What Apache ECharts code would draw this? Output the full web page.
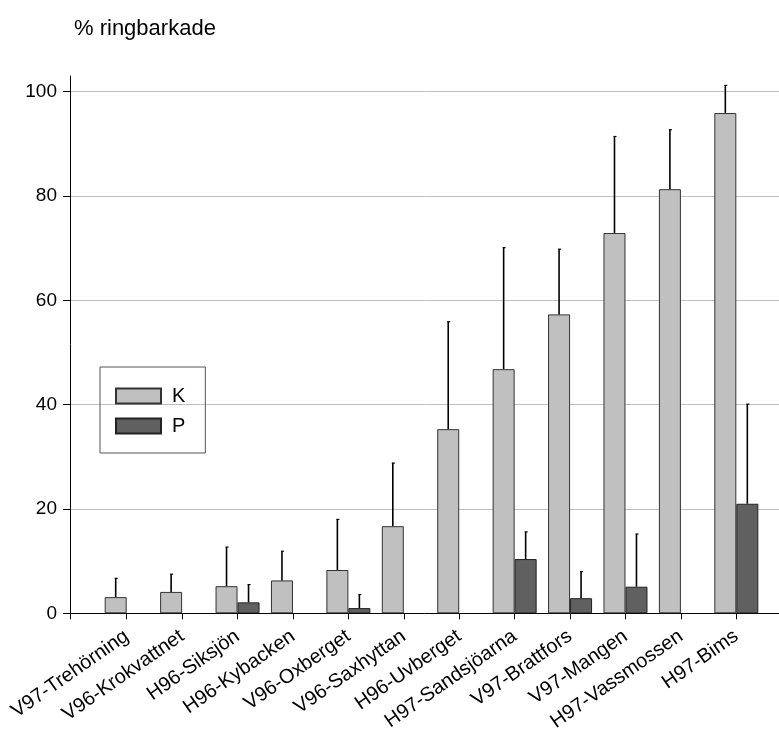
<!DOCTYPE html>
<html>
<head>
<meta charset="utf-8">
<script src="https://cdn.jsdelivr.net/npm/echarts@6/dist/echarts.min.js"></script>
<style>
  html, body { margin: 0; padding: 0; background: #fff; }
  #chart { width: 779px; height: 734px; }
</style>
</head>
<body>
<div id="chart"></div>
<script>
// lokaler
var categories = ['V97-Trehörning', 'V96-Krokvattnet', 'H96-Siksjön', 'H96-Kybacken', 'V96-Oxberget',
  'V96-Saxhyttan', 'H96-Uvberget', 'H97-Sandsjöarna', 'V97-Brattfors', 'V97-Mangen',
  'H97-Vassmossen', 'H97-Bims']
// % ringbarkade, medel och standardavvikelse
var kValues = [3.1, 4.1, 5.2, 6.3, 8.3, 16.7, 35.3, 46.8, 57.3, 72.9, 81.3, 95.9]
var kErrors = [3.6, 3.4, 7.5, 5.6, 9.7, 12.1, 20.6, 23.3, 12.5, 18.5, 11.4, 5.3]
var pValues = [null, null, 2.1, null, 1.0, null, null, 10.4, 2.9, 5.1, null, 21.0]
var pErrors = [null, null, 3.4, null, 2.6, null, null, 5.2, 5.1, 10.1, null, 19.1]
var yTicks = [0, 20, 40, 60, 80, 100]

var font = 'Liberation Sans, Arial, sans-serif'
var xMin = -1.023
var xMax = 11.77
var idx = categories.map(function (c, i) { return i })

function barData (vals) {
  return vals.map(function (v, i) { return [i, v] })
}
function errData (vals, errs) {
  return vals.map(function (v, i) { return v == null ? [i, null, null] : [i, v, v + errs[i]] })
}
// felstapel, forskjuten till stapelns mitt
function errRender (shift) {
  return function (params, api) {
    if (api.value(1) == null || isNaN(api.value(1))) return
    var p1 = api.coord([api.value(0), api.value(1)])
    var p2 = api.coord([api.value(0), api.value(2)])
    var x = p1[0] + shift
    return {
      type: 'group',
      children: [
        { type: 'line', shape: { x1: x, y1: p1[1], x2: x, y2: p2[1] }, style: { stroke: '#000', lineWidth: 1.6 } },
        { type: 'line', shape: { x1: x - 1, y1: p2[1], x2: x + 2, y2: p2[1] }, style: { stroke: '#000', lineWidth: 1.2 } }
      ]
    }
  }
}

var chart = echarts.init(document.getElementById('chart'))
chart.setOption({
  animation: false,
  backgroundColor: '#fff',
  textStyle: { fontFamily: font },
  title: {
    text: '% ringbarkade',
    left: 69,
    top: 13,
    textStyle: { fontFamily: font, fontSize: 22, fontWeight: 'normal', color: '#000' }
  },
  legend: {
    orient: 'vertical',
    left: 100,
    top: 367,
    padding: [19, 20, 17, 15],
    itemWidth: 45,
    itemHeight: 15,
    itemGap: 10,
    icon: 'rect',
    borderColor: '#555',
    borderWidth: 1,
    textStyle: { fontFamily: font, fontSize: 20, color: '#000', padding: [0, 0, 0, 6] },
    data: ['K', 'P']
  },
  grid: { left: 70, right: 0, top: 76, bottom: 120.7 },
  xAxis: {
    type: 'value',
    min: xMin,
    max: xMax,
    splitLine: { show: false },
    axisLine: { show: true, onZero: false, lineStyle: { color: '#000', width: 1 } },
    axisTick: { show: true, length: 6, lineStyle: { color: '#000' }, customValues: [xMin].concat(idx) },
    axisLabel: {
      customValues: idx,
      rotate: 35,
      margin: 21,
      fontFamily: font,
      fontSize: 20,
      color: '#000',
      formatter: function (v) { return categories[Math.round(v)] }
    }
  },
  yAxis: {
    type: 'value',
    min: 0,
    max: 103,
    interval: 20,
    axisLine: { show: true, onZero: false, lineStyle: { color: '#000', width: 1 } },
    axisTick: { show: true, length: 7, lineStyle: { color: '#000' }, customValues: yTicks },
    axisLabel: { customValues: yTicks, margin: 13, fontFamily: font, fontSize: 19, color: '#000' },
    splitLine: {
      show: true,
      lineStyle: { color: ['#c0c0c0', '#c0c0c0', '#c0c0c0', '#c0c0c0', '#c0c0c0', '#c0c0c0', 'rgba(0,0,0,0)'], width: 1 }
    }
  },
  series: [
    {
      name: 'K',
      type: 'bar',
      barWidth: 22,
      barGap: '0%',
      itemStyle: { color: '#c0c0c0', borderColor: '#333', borderWidth: 1 },
      data: barData(kValues),
      z: 2
    },
    {
      name: 'P',
      type: 'bar',
      barWidth: 22,
      barGap: '0%',
      itemStyle: { color: '#606060', borderColor: '#222', borderWidth: 1 },
      data: barData(pValues),
      z: 2
    },
    {
      type: 'custom',
      renderItem: errRender(-11),
      data: errData(kValues, kErrors),
      encode: { x: 0, y: [1, 2] },
      z: 3
    },
    {
      type: 'custom',
      renderItem: errRender(11),
      data: errData(pValues, pErrors),
      encode: { x: 0, y: [1, 2] },
      z: 3
    }
  ]
})
</script>
</body>
</html>
